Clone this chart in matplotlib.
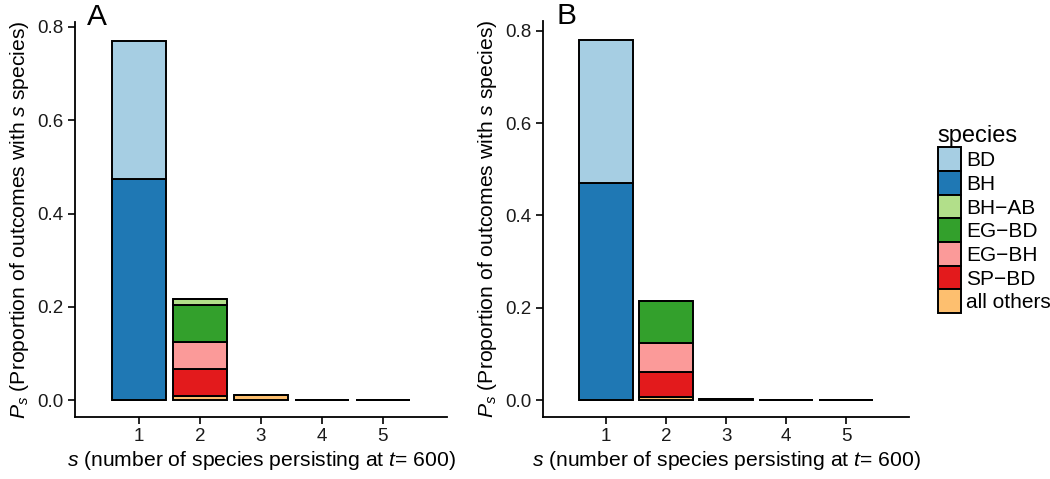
import numpy as np
import matplotlib
matplotlib.use('Agg')
import matplotlib.pyplot as plt
from matplotlib.patches import Patch

plt.rcParams['font.family'] = ['Liberation Sans', 'DejaVu Sans']
plt.rcParams['mathtext.fontset'] = 'custom'
plt.rcParams['mathtext.rm'] = 'Liberation Sans'
plt.rcParams['mathtext.it'] = 'Liberation Sans:italic'

s_vals = [1, 2, 3, 4, 5]
species = ['BD', 'BH', 'BH\u2212AB', 'EG\u2212BD', 'EG\u2212BH', 'SP\u2212BD', 'all others']
colors = ['#a6cee3', '#1f78b4', '#b2df8a', '#33a02c', '#fb9a99', '#e31a1c', '#fdbf6f']

# panel A, proportion per species for s = 1..5
a_bd = [0.295, 0, 0, 0, 0]
a_bh = [0.473, 0, 0, 0, 0]
a_bhab = [0, 0.012, 0, 0, 0]
a_egbd = [0, 0.080, 0, 0, 0]
a_egbh = [0, 0.058, 0, 0, 0]
a_spbd = [0, 0.057, 0, 0, 0]
a_other = [0.001, 0.009, 0.012, 0, 0]

# panel B
b_bd = [0.309, 0, 0, 0, 0]
b_bh = [0.469, 0, 0, 0, 0]
b_bhab = [0, 0, 0, 0, 0]
b_egbd = [0, 0.091, 0, 0, 0]
b_egbh = [0, 0.063, 0, 0, 0]
b_spbd = [0, 0.054, 0, 0, 0]
b_other = [0.001, 0.007, 0.004, 0, 0]

panel_a = [a_bd, a_bh, a_bhab, a_egbd, a_egbh, a_spbd, a_other]
panel_b = [b_bd, b_bh, b_bhab, b_egbd, b_egbh, b_spbd, b_other]


def draw(ax, data, letter, ytop, lx):
    x = np.array(s_vals)
    bottom = np.zeros(len(x))
    # stack from the last species (bottom) up to the first (top)
    for i in reversed(range(len(species))):
        h = np.array(data[i], dtype=float)
        if i != len(species) - 1 and not h.any():
            continue
        ax.bar(x, h, width=0.9, bottom=bottom, color=colors[i],
               edgecolor='black', linewidth=1.4)
        bottom += h
    ax.set_xlim(-0.05, 6.05)
    ax.set_ylim(-0.036, ytop)
    ax.set_xticks(s_vals)
    ax.set_yticks([0.0, 0.2, 0.4, 0.6, 0.8])
    ax.set_yticklabels(['0.0', '0.2', '0.4', '0.6', '0.8'])
    ax.spines['top'].set_visible(False)
    ax.spines['right'].set_visible(False)
    for sp in ['left', 'bottom']:
        ax.spines[sp].set_linewidth(1.3)
    ax.tick_params(axis='both', labelsize=13.5, length=5, width=1.2,
                   color='black', labelcolor='#1a1a1a', pad=3)
    ax.set_xlabel('$s$ (number of species persisting at $t$= 600)', fontsize=15.2, labelpad=3)
    ax.set_ylabel('$P_s$ (Proportion of outcomes with $s$ species)', fontsize=15.2, labelpad=5)
    ax.text(lx, 1.013, letter, transform=ax.transAxes, fontsize=21.5, va='center', ha='left')


fig = plt.figure(figsize=(10.5, 4.79), dpi=100)
ax1 = fig.add_axes([0.0714, 0.1294, 0.3543, 0.824])
ax2 = fig.add_axes([0.517, 0.1294, 0.349, 0.826])
draw(ax1, panel_a, 'A', 0.81, 0.033)
draw(ax2, panel_b, 'B', 0.82, 0.036)

handles = [Patch(facecolor=c, edgecolor='black', linewidth=1.4) for c in colors]
fig.legend(handles, species, loc='upper left', bbox_to_anchor=(0.893, 0.738),
           title='species', title_fontsize=17, fontsize=15, frameon=False,
           handlelength=1.1, handleheight=1.37, handletextpad=0.25,
           labelspacing=0.0, borderaxespad=0, borderpad=0, alignment='left')

fig.savefig('out.png', dpi=100)
